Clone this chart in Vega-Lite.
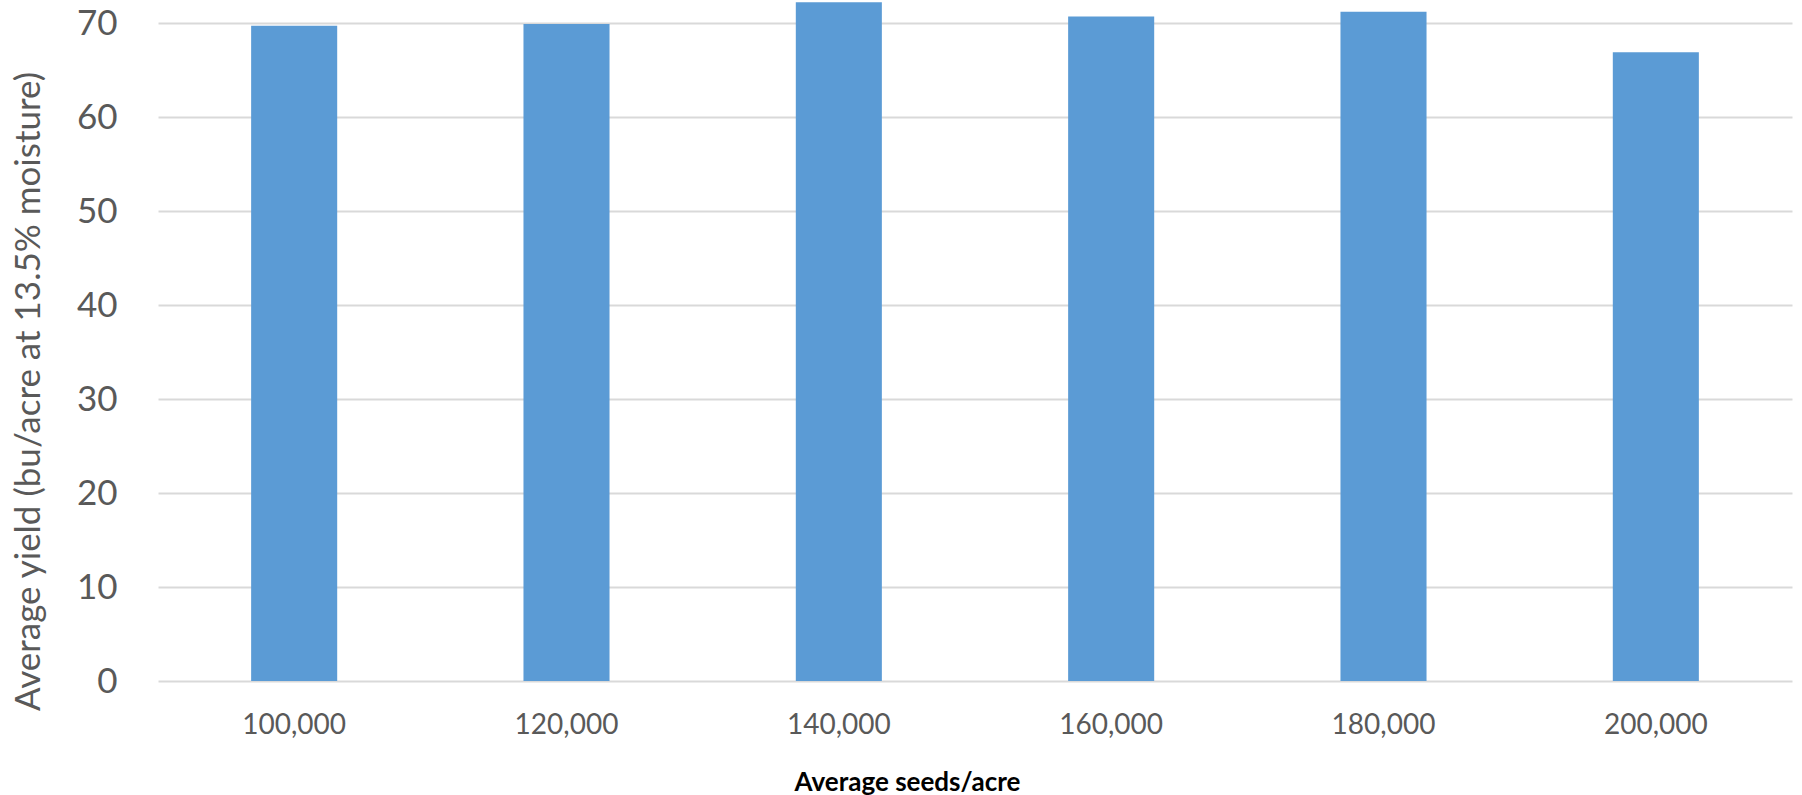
{
  "$schema": "https://vega.github.io/schema/vega-lite/v6.json",
  "autosize": "none",
  "width": 1634,
  "height": 681,
  "padding": {"left": 158, "top": 0, "right": 10, "bottom": 114},
  "background": "white",
  "config": {
    "view": {"stroke": null},
    "font": "Lato"
  },
  "data": {
    "values": [
      {"seeds": "100,000", "yield": 69.7},
      {"seeds": "120,000", "yield": 69.9},
      {"seeds": "140,000", "yield": 72.2},
      {"seeds": "160,000", "yield": 70.7},
      {"seeds": "180,000", "yield": 71.2},
      {"seeds": "200,000", "yield": 66.9}
    ]
  },
  "mark": {"type": "bar", "color": "#5B9BD5"},
  "encoding": {
    "x": {
      "field": "seeds",
      "type": "ordinal",
      "sort": null,
      "scale": {"paddingInner": 0.684, "paddingOuter": 0.342},
      "axis": {
        "title": "Average seeds/acre",
        "titleFont": "Lato",
        "titleFontSize": 26,
        "titleFontWeight": "bold",
        "titleColor": "#000000",
        "titleX": 749,
        "titleY": 109,
        "titleBaseline": "alphabetic",
        "titleAnchor": "middle",
        "labelAngle": 0,
        "labelFont": "Lato",
        "labelFontSize": 28,
        "labelColor": "#595959",
        "labelPadding": 30,
        "ticks": false,
        "domain": false
      }
    },
    "y": {
      "field": "yield",
      "type": "quantitative",
      "scale": {"domain": [0, 72.45], "nice": false},
      "axis": {
        "title": "Average yield (bu/acre at 13.5% moisture)",
        "titleFont": "Lato",
        "titleFontSize": 35,
        "titleFontWeight": "normal",
        "titleColor": "#595959",
        "titleX": -119,
        "titleY": 391,
        "titleBaseline": "alphabetic",
        "titleAnchor": "middle",
        "values": [0, 10, 20, 30, 40, 50, 60, 70],
        "labelFont": "Lato",
        "labelFontSize": 35,
        "labelColor": "#595959",
        "labelPadding": 41,
        "ticks": false,
        "domain": false,
        "grid": true,
        "gridColor": "#D9D9D9",
        "gridWidth": 2
      }
    }
  }
}
